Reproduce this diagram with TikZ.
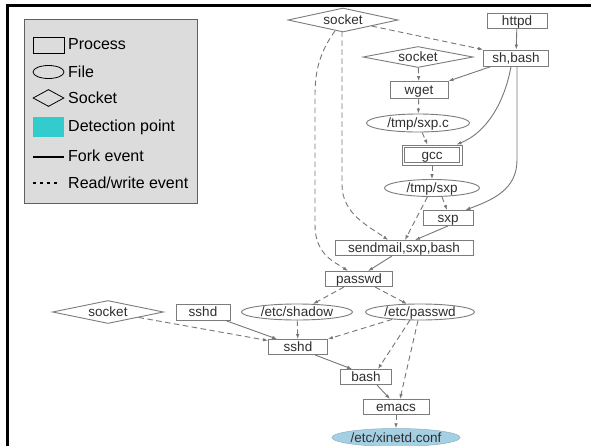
\documentclass[tikz,border=0pt]{standalone}
\usepackage{fontspec}
\setmainfont{Liberation Sans}
\usetikzlibrary{shapes.geometric,arrows.meta,calc}

% zero-size, vertically centred label so shapes keep their given sizes
\newcommand\ztext[1]{\makebox[0pt]{\raisebox{-.36em}[0pt][0pt]{#1}}}
\newcommand\graphfont{\fontsize{13.5}{14}\selectfont}
\newcommand\legendfont{\fontsize{16}{18}\selectfont}

\definecolor{boxgray}{HTML}{7C7C7C}
\definecolor{edgegray}{HTML}{777777}
\definecolor{txtgray}{HTML}{2E2E2E}
\definecolor{leggray}{HTML}{DCDCDC}
\definecolor{legborder}{HTML}{606060}
\definecolor{detcyan}{HTML}{33CCCC}
\definecolor{detblue}{HTML}{A5CFE3}

\begin{document}
\begin{tikzpicture}[x=1pt,y=-1pt,
  every node/.style={inner sep=0pt},
  proc/.style={draw=boxgray, line width=0.9pt, fill=white, shape=rectangle,
    font=\graphfont, text=txtgray},
  file/.style={proc, shape=ellipse},
  sock/.style={proc, shape=diamond},
  fork/.style={draw=edgegray, line width=0.9pt, -{Latex[length=5pt,width=3.6pt]}},
  rw/.style={fork, dash pattern=on 5.5pt off 3.5pt},
  legtext/.style={anchor=west, font=\legendfont, text=black},
  legshape/.style={draw=black, line width=0.8pt, minimum width=31, inner sep=0pt}
]
\useasboundingbox (0,0) rectangle (591,445);
\fill[white] (0,0) rectangle (591,445);

% outer frame
\draw[line width=3pt, line cap=rect] (7.5,445) -- (7.5,5.5) -- (591,5.5);

% ---------- legend ----------
\node[draw=legborder, fill=leggray, line width=0.8pt, anchor=north west,
  minimum width=173, minimum height=184] (legend) at (24,18.5) {};
\node[legshape, minimum height=16] (lgproc) at (48.5,45) {};
\node[legshape, shape=ellipse, minimum height=13] (lgfile) at (48.5,72) {};
\node[legshape, shape=diamond, minimum height=17] (lgsock) at (48.5,98) {};
\node[fill=detcyan, minimum width=31, minimum height=20] (lgdet) at (48.5,127) {};
\coordinate (lgforkA) at (33,157);
\coordinate (lgforkB) at (64,157);
\draw[line width=2.6pt] (lgforkA) -- (lgforkB);
\coordinate (lgrwA) at (33,183);
\coordinate (lgrwB) at (60,183);
\draw[line width=2.8pt, dash pattern=on 3pt off 4pt] (lgrwA) -- (lgrwB);
\node[legtext] (tproc) at (68,44) {Process};
\node[legtext] (tfile) at (68,72) {File};
\node[legtext] (tsock) at (68,98) {Socket};
\node[legtext] (tdet)  at (68,127) {Detection point};
\node[legtext] (tfork) at (68,156) {Fork event};
\node[legtext] (trw)   at (68,183) {Read/write event};

% ---------- provenance graph ----------
\node[sock, minimum width=110, minimum height=24] (sockA) at (343,20) {\ztext{socket}};
\node[proc, minimum width=60, minimum height=15] (httpd) at (517,21) {\ztext{httpd}};
\node[proc, minimum width=65, minimum height=16] (shbash) at (516,58) {\ztext{sh,bash}};
\node[sock, minimum width=110, minimum height=21] (sockB) at (418,57) {\ztext{socket}};
\node[proc, minimum width=58, minimum height=17] (wget) at (419,90) {\ztext{wget}};
\node[file, minimum width=103, minimum height=18] (sxpc) at (418,123) {\ztext{/tmp/sxp.c}};
\node[proc, minimum width=60, minimum height=20] (gcc) at (432,155) {\ztext{gcc}};
\draw[boxgray, line width=0.8pt] ($(gcc.north west)+(3,3)$) rectangle ($(gcc.south east)+(-3,-3)$);
\node[file, minimum width=95, minimum height=17] (tmpsxp) at (432,188) {\ztext{/tmp/sxp}};
\node[proc, minimum width=50, minimum height=15] (sxp) at (448,218) {\ztext{sxp}};
\node[proc, minimum width=138, minimum height=15] (sendmail) at (404,248) {\ztext{sendmail,sxp,bash}};
\node[proc, minimum width=67, minimum height=15] (passwd) at (359,279) {\ztext{passwd}};
\node[sock, minimum width=111, minimum height=23] (sockC) at (108,312) {\ztext{socket}};
\node[proc, minimum width=54, minimum height=16] (sshdA) at (203,312) {\ztext{sshd}};
\node[file, minimum width=111, minimum height=16] (shadow) at (297,312) {\ztext{/etc/shadow}};
\node[file, minimum width=109, minimum height=16] (etcpw) at (420,312) {\ztext{/etc/passwd}};
\node[proc, minimum width=59, minimum height=15] (sshdB) at (298,347) {\ztext{sshd}};
\node[proc, minimum width=51, minimum height=15] (bash) at (366,377) {\ztext{bash}};
\node[proc, minimum width=66, minimum height=15] (emacs) at (396,407) {\ztext{emacs}};
\node[file, fill=detblue, draw=detblue!85!black, line width=0.5pt,
  minimum width=128, minimum height=18] (xinetd) at (396,437.5) {\ztext{/etc/xinetd.conf}};

% upper part
\draw[rw] (sockA) -- (shbash.north west);
\draw[fork] (httpd) -- (shbash);
\draw[rw] (sockB) -- (wget);
\draw[fork] (shbash) -- (wget.north east);
\draw[rw] (wget) -- (sxpc);
\draw[rw] (sxpc) -- (gcc);
\draw[fork] ($(shbash.south)+(-5,0)$) .. controls (505,100) and (488,132) .. ($(gcc.north east)+(-6,0)$);
\draw[fork] ($(shbash.south)+(1,0)$) -- (517,160) .. controls (517,190) and (492,200) .. ($(sxp.north east)+(-8,0)$);
\draw[rw] (gcc) -- (tmpsxp);
\draw[rw] (tmpsxp) -- ($(sendmail.north)+(1,0)$);
\draw[rw] ($(tmpsxp.south)+(10,0)$) -- ($(sxp.north)+(-1,0)$);
\draw[fork] (sxp.south) -- ($(sendmail.north)+(11,0)$);
\draw[rw] ($(sockA.south)+(-1,-1)$) -- (342,185) .. controls (342,215) and (372,228) .. ($(sendmail.north)+(-16,0)$);
\draw[rw] ($(sockA.south)+(-8,-1.6)$) .. controls (320,52) and (315,70) .. (315,95) -- (315,225)
  .. controls (315,255) and (335,262) .. ($(passwd.north)+(-11,0)$);
\draw[fork] ($(sendmail.south)+(-12,0)$) -- ($(passwd.north)+(9,0)$);

% lower part
\draw[rw] ($(passwd.south)+(-15,0)$) -- ($(shadow.north)+(16,0.4)$);
\draw[rw] ($(passwd.south)+(16,0)$) -- ($(etcpw.north)+(-13,0.4)$);
\draw[rw] (shadow) -- (sshdB);
\draw[rw] ($(etcpw.south)+(-28,-1)$) -- (sshdB.north east);
\draw[rw] (sockC) -- ($(sshdB.north west)+(0,1.5)$);
\draw[fork] ($(sshdA.south east)+(-5,0)$) -- ($(sshdB.north)+(-21,0)$);
\draw[fork] ($(sshdB.south)+(17,0)$) -- ($(bash.north)+(-14,0)$);
\draw[rw] ($(etcpw.south)+(-10,-0.4)$) -- ($(bash.north)+(12,0)$);
\draw[rw] ($(etcpw.south)+(-2,0)$) -- ($(emacs.north)+(4,0)$);
\draw[fork] ($(bash.south)+(11,0)$) -- ($(emacs.north)+(-6,0)$);
\draw[rw] (emacs) -- (xinetd);
\end{tikzpicture}
\end{document}
